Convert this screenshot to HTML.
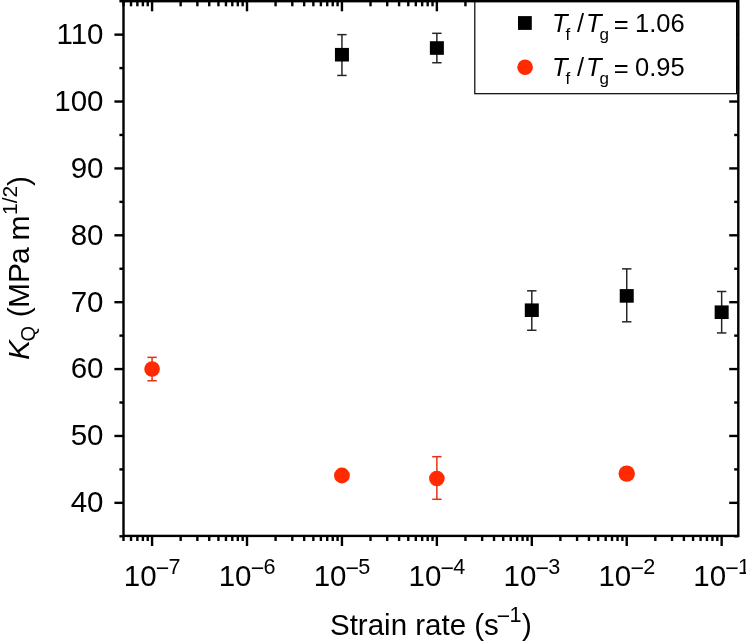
<!DOCTYPE html>
<html><head><meta charset="utf-8"><style>html,body{margin:0;padding:0;background:#fff;overflow:hidden}svg{display:block;will-change:transform}text{font-family:"Liberation Sans",sans-serif}</style></head>
<body><svg width="746" height="641" viewBox="0 0 746 641" font-family="Liberation Sans, sans-serif" fill="#000">
<line x1="341.94" y1="34.64" x2="341.94" y2="75.44" stroke="#262626" stroke-width="1.5"/><line x1="337.24" y1="34.64" x2="346.64" y2="34.64" stroke="#262626" stroke-width="1.5"/><line x1="337.24" y1="75.44" x2="346.64" y2="75.44" stroke="#262626" stroke-width="1.5"/><rect x="334.94" y="47.91" width="14" height="13.6" fill="#000"/><line x1="436.87" y1="33.31" x2="436.87" y2="62.74" stroke="#262626" stroke-width="1.5"/><line x1="432.17" y1="33.31" x2="441.57" y2="33.31" stroke="#262626" stroke-width="1.5"/><line x1="432.17" y1="62.74" x2="441.57" y2="62.74" stroke="#262626" stroke-width="1.5"/><rect x="429.87" y="41.22" width="14" height="13.6" fill="#000"/><line x1="531.80" y1="290.82" x2="531.80" y2="330.28" stroke="#262626" stroke-width="1.5"/><line x1="527.10" y1="290.82" x2="536.50" y2="290.82" stroke="#262626" stroke-width="1.5"/><line x1="527.10" y1="330.28" x2="536.50" y2="330.28" stroke="#262626" stroke-width="1.5"/><rect x="524.80" y="303.41" width="14" height="13.6" fill="#000"/><line x1="626.73" y1="268.88" x2="626.73" y2="321.79" stroke="#262626" stroke-width="1.5"/><line x1="622.03" y1="268.88" x2="631.43" y2="268.88" stroke="#262626" stroke-width="1.5"/><line x1="622.03" y1="321.79" x2="631.43" y2="321.79" stroke="#262626" stroke-width="1.5"/><rect x="619.73" y="289.10" width="14" height="13.6" fill="#000"/><line x1="721.66" y1="291.49" x2="721.66" y2="332.96" stroke="#262626" stroke-width="1.5"/><line x1="716.96" y1="291.49" x2="726.36" y2="291.49" stroke="#262626" stroke-width="1.5"/><line x1="716.96" y1="332.96" x2="726.36" y2="332.96" stroke="#262626" stroke-width="1.5"/><rect x="714.66" y="305.42" width="14" height="13.6" fill="#000"/><line x1="152.08" y1="357.37" x2="152.08" y2="380.78" stroke="#e63214" stroke-width="1.5"/><line x1="147.38" y1="357.37" x2="156.78" y2="357.37" stroke="#e63214" stroke-width="1.5"/><line x1="147.38" y1="380.78" x2="156.78" y2="380.78" stroke="#e63214" stroke-width="1.5"/><circle cx="152.08" cy="369.07" r="7.8" fill="#ff2a00"/><circle cx="341.94" cy="475.49" r="7.9" fill="#ff2a00"/><line x1="436.87" y1="456.69" x2="436.87" y2="499.30" stroke="#e63214" stroke-width="1.5"/><line x1="432.17" y1="456.69" x2="441.57" y2="456.69" stroke="#e63214" stroke-width="1.5"/><line x1="432.17" y1="499.30" x2="441.57" y2="499.30" stroke="#e63214" stroke-width="1.5"/><circle cx="436.87" cy="478.50" r="7.8" fill="#ff2a00"/><circle cx="626.73" cy="473.62" r="8.2" fill="#ff2a00"/>
<line x1="123.50" y1="535.90" x2="123.50" y2="541.00" stroke="#000" stroke-width="2.4" stroke-linecap="butt"/><line x1="123.50" y1="1.20" x2="123.50" y2="6.30" stroke="#000" stroke-width="2.4" stroke-linecap="butt"/><line x1="131.02" y1="535.90" x2="131.02" y2="541.00" stroke="#000" stroke-width="2.4" stroke-linecap="butt"/><line x1="131.02" y1="1.20" x2="131.02" y2="6.30" stroke="#000" stroke-width="2.4" stroke-linecap="butt"/><line x1="137.37" y1="535.90" x2="137.37" y2="541.00" stroke="#000" stroke-width="2.4" stroke-linecap="butt"/><line x1="137.37" y1="1.20" x2="137.37" y2="6.30" stroke="#000" stroke-width="2.4" stroke-linecap="butt"/><line x1="142.88" y1="535.90" x2="142.88" y2="541.00" stroke="#000" stroke-width="2.4" stroke-linecap="butt"/><line x1="142.88" y1="1.20" x2="142.88" y2="6.30" stroke="#000" stroke-width="2.4" stroke-linecap="butt"/><line x1="147.73" y1="535.90" x2="147.73" y2="541.00" stroke="#000" stroke-width="2.4" stroke-linecap="butt"/><line x1="147.73" y1="1.20" x2="147.73" y2="6.30" stroke="#000" stroke-width="2.4" stroke-linecap="butt"/><line x1="152.08" y1="535.90" x2="152.08" y2="546.00" stroke="#000" stroke-width="2.4" stroke-linecap="butt"/><line x1="152.08" y1="1.20" x2="152.08" y2="11.30" stroke="#000" stroke-width="2.4" stroke-linecap="butt"/><line x1="180.65" y1="535.90" x2="180.65" y2="541.00" stroke="#000" stroke-width="2.4" stroke-linecap="butt"/><line x1="180.65" y1="1.20" x2="180.65" y2="6.30" stroke="#000" stroke-width="2.4" stroke-linecap="butt"/><line x1="197.37" y1="535.90" x2="197.37" y2="541.00" stroke="#000" stroke-width="2.4" stroke-linecap="butt"/><line x1="197.37" y1="1.20" x2="197.37" y2="6.30" stroke="#000" stroke-width="2.4" stroke-linecap="butt"/><line x1="209.23" y1="535.90" x2="209.23" y2="541.00" stroke="#000" stroke-width="2.4" stroke-linecap="butt"/><line x1="209.23" y1="1.20" x2="209.23" y2="6.30" stroke="#000" stroke-width="2.4" stroke-linecap="butt"/><line x1="218.43" y1="535.90" x2="218.43" y2="541.00" stroke="#000" stroke-width="2.4" stroke-linecap="butt"/><line x1="218.43" y1="1.20" x2="218.43" y2="6.30" stroke="#000" stroke-width="2.4" stroke-linecap="butt"/><line x1="225.95" y1="535.90" x2="225.95" y2="541.00" stroke="#000" stroke-width="2.4" stroke-linecap="butt"/><line x1="225.95" y1="1.20" x2="225.95" y2="6.30" stroke="#000" stroke-width="2.4" stroke-linecap="butt"/><line x1="232.30" y1="535.90" x2="232.30" y2="541.00" stroke="#000" stroke-width="2.4" stroke-linecap="butt"/><line x1="232.30" y1="1.20" x2="232.30" y2="6.30" stroke="#000" stroke-width="2.4" stroke-linecap="butt"/><line x1="237.81" y1="535.90" x2="237.81" y2="541.00" stroke="#000" stroke-width="2.4" stroke-linecap="butt"/><line x1="237.81" y1="1.20" x2="237.81" y2="6.30" stroke="#000" stroke-width="2.4" stroke-linecap="butt"/><line x1="242.66" y1="535.90" x2="242.66" y2="541.00" stroke="#000" stroke-width="2.4" stroke-linecap="butt"/><line x1="242.66" y1="1.20" x2="242.66" y2="6.30" stroke="#000" stroke-width="2.4" stroke-linecap="butt"/><line x1="247.01" y1="535.90" x2="247.01" y2="546.00" stroke="#000" stroke-width="2.4" stroke-linecap="butt"/><line x1="247.01" y1="1.20" x2="247.01" y2="11.30" stroke="#000" stroke-width="2.4" stroke-linecap="butt"/><line x1="275.58" y1="535.90" x2="275.58" y2="541.00" stroke="#000" stroke-width="2.4" stroke-linecap="butt"/><line x1="275.58" y1="1.20" x2="275.58" y2="6.30" stroke="#000" stroke-width="2.4" stroke-linecap="butt"/><line x1="292.30" y1="535.90" x2="292.30" y2="541.00" stroke="#000" stroke-width="2.4" stroke-linecap="butt"/><line x1="292.30" y1="1.20" x2="292.30" y2="6.30" stroke="#000" stroke-width="2.4" stroke-linecap="butt"/><line x1="304.16" y1="535.90" x2="304.16" y2="541.00" stroke="#000" stroke-width="2.4" stroke-linecap="butt"/><line x1="304.16" y1="1.20" x2="304.16" y2="6.30" stroke="#000" stroke-width="2.4" stroke-linecap="butt"/><line x1="313.36" y1="535.90" x2="313.36" y2="541.00" stroke="#000" stroke-width="2.4" stroke-linecap="butt"/><line x1="313.36" y1="1.20" x2="313.36" y2="6.30" stroke="#000" stroke-width="2.4" stroke-linecap="butt"/><line x1="320.88" y1="535.90" x2="320.88" y2="541.00" stroke="#000" stroke-width="2.4" stroke-linecap="butt"/><line x1="320.88" y1="1.20" x2="320.88" y2="6.30" stroke="#000" stroke-width="2.4" stroke-linecap="butt"/><line x1="327.23" y1="535.90" x2="327.23" y2="541.00" stroke="#000" stroke-width="2.4" stroke-linecap="butt"/><line x1="327.23" y1="1.20" x2="327.23" y2="6.30" stroke="#000" stroke-width="2.4" stroke-linecap="butt"/><line x1="332.74" y1="535.90" x2="332.74" y2="541.00" stroke="#000" stroke-width="2.4" stroke-linecap="butt"/><line x1="332.74" y1="1.20" x2="332.74" y2="6.30" stroke="#000" stroke-width="2.4" stroke-linecap="butt"/><line x1="337.59" y1="535.90" x2="337.59" y2="541.00" stroke="#000" stroke-width="2.4" stroke-linecap="butt"/><line x1="337.59" y1="1.20" x2="337.59" y2="6.30" stroke="#000" stroke-width="2.4" stroke-linecap="butt"/><line x1="341.94" y1="535.90" x2="341.94" y2="546.00" stroke="#000" stroke-width="2.4" stroke-linecap="butt"/><line x1="341.94" y1="1.20" x2="341.94" y2="11.30" stroke="#000" stroke-width="2.4" stroke-linecap="butt"/><line x1="370.51" y1="535.90" x2="370.51" y2="541.00" stroke="#000" stroke-width="2.4" stroke-linecap="butt"/><line x1="370.51" y1="1.20" x2="370.51" y2="6.30" stroke="#000" stroke-width="2.4" stroke-linecap="butt"/><line x1="387.23" y1="535.90" x2="387.23" y2="541.00" stroke="#000" stroke-width="2.4" stroke-linecap="butt"/><line x1="387.23" y1="1.20" x2="387.23" y2="6.30" stroke="#000" stroke-width="2.4" stroke-linecap="butt"/><line x1="399.09" y1="535.90" x2="399.09" y2="541.00" stroke="#000" stroke-width="2.4" stroke-linecap="butt"/><line x1="399.09" y1="1.20" x2="399.09" y2="6.30" stroke="#000" stroke-width="2.4" stroke-linecap="butt"/><line x1="408.29" y1="535.90" x2="408.29" y2="541.00" stroke="#000" stroke-width="2.4" stroke-linecap="butt"/><line x1="408.29" y1="1.20" x2="408.29" y2="6.30" stroke="#000" stroke-width="2.4" stroke-linecap="butt"/><line x1="415.81" y1="535.90" x2="415.81" y2="541.00" stroke="#000" stroke-width="2.4" stroke-linecap="butt"/><line x1="415.81" y1="1.20" x2="415.81" y2="6.30" stroke="#000" stroke-width="2.4" stroke-linecap="butt"/><line x1="422.16" y1="535.90" x2="422.16" y2="541.00" stroke="#000" stroke-width="2.4" stroke-linecap="butt"/><line x1="422.16" y1="1.20" x2="422.16" y2="6.30" stroke="#000" stroke-width="2.4" stroke-linecap="butt"/><line x1="427.67" y1="535.90" x2="427.67" y2="541.00" stroke="#000" stroke-width="2.4" stroke-linecap="butt"/><line x1="427.67" y1="1.20" x2="427.67" y2="6.30" stroke="#000" stroke-width="2.4" stroke-linecap="butt"/><line x1="432.52" y1="535.90" x2="432.52" y2="541.00" stroke="#000" stroke-width="2.4" stroke-linecap="butt"/><line x1="432.52" y1="1.20" x2="432.52" y2="6.30" stroke="#000" stroke-width="2.4" stroke-linecap="butt"/><line x1="436.87" y1="535.90" x2="436.87" y2="546.00" stroke="#000" stroke-width="2.4" stroke-linecap="butt"/><line x1="436.87" y1="1.20" x2="436.87" y2="11.30" stroke="#000" stroke-width="2.4" stroke-linecap="butt"/><line x1="465.44" y1="535.90" x2="465.44" y2="541.00" stroke="#000" stroke-width="2.4" stroke-linecap="butt"/><line x1="465.44" y1="1.20" x2="465.44" y2="6.30" stroke="#000" stroke-width="2.4" stroke-linecap="butt"/><line x1="482.16" y1="535.90" x2="482.16" y2="541.00" stroke="#000" stroke-width="2.4" stroke-linecap="butt"/><line x1="482.16" y1="1.20" x2="482.16" y2="6.30" stroke="#000" stroke-width="2.4" stroke-linecap="butt"/><line x1="494.02" y1="535.90" x2="494.02" y2="541.00" stroke="#000" stroke-width="2.4" stroke-linecap="butt"/><line x1="494.02" y1="1.20" x2="494.02" y2="6.30" stroke="#000" stroke-width="2.4" stroke-linecap="butt"/><line x1="503.22" y1="535.90" x2="503.22" y2="541.00" stroke="#000" stroke-width="2.4" stroke-linecap="butt"/><line x1="503.22" y1="1.20" x2="503.22" y2="6.30" stroke="#000" stroke-width="2.4" stroke-linecap="butt"/><line x1="510.74" y1="535.90" x2="510.74" y2="541.00" stroke="#000" stroke-width="2.4" stroke-linecap="butt"/><line x1="510.74" y1="1.20" x2="510.74" y2="6.30" stroke="#000" stroke-width="2.4" stroke-linecap="butt"/><line x1="517.09" y1="535.90" x2="517.09" y2="541.00" stroke="#000" stroke-width="2.4" stroke-linecap="butt"/><line x1="517.09" y1="1.20" x2="517.09" y2="6.30" stroke="#000" stroke-width="2.4" stroke-linecap="butt"/><line x1="522.60" y1="535.90" x2="522.60" y2="541.00" stroke="#000" stroke-width="2.4" stroke-linecap="butt"/><line x1="522.60" y1="1.20" x2="522.60" y2="6.30" stroke="#000" stroke-width="2.4" stroke-linecap="butt"/><line x1="527.45" y1="535.90" x2="527.45" y2="541.00" stroke="#000" stroke-width="2.4" stroke-linecap="butt"/><line x1="527.45" y1="1.20" x2="527.45" y2="6.30" stroke="#000" stroke-width="2.4" stroke-linecap="butt"/><line x1="531.80" y1="535.90" x2="531.80" y2="546.00" stroke="#000" stroke-width="2.4" stroke-linecap="butt"/><line x1="531.80" y1="1.20" x2="531.80" y2="11.30" stroke="#000" stroke-width="2.4" stroke-linecap="butt"/><line x1="560.37" y1="535.90" x2="560.37" y2="541.00" stroke="#000" stroke-width="2.4" stroke-linecap="butt"/><line x1="560.37" y1="1.20" x2="560.37" y2="6.30" stroke="#000" stroke-width="2.4" stroke-linecap="butt"/><line x1="577.09" y1="535.90" x2="577.09" y2="541.00" stroke="#000" stroke-width="2.4" stroke-linecap="butt"/><line x1="577.09" y1="1.20" x2="577.09" y2="6.30" stroke="#000" stroke-width="2.4" stroke-linecap="butt"/><line x1="588.95" y1="535.90" x2="588.95" y2="541.00" stroke="#000" stroke-width="2.4" stroke-linecap="butt"/><line x1="588.95" y1="1.20" x2="588.95" y2="6.30" stroke="#000" stroke-width="2.4" stroke-linecap="butt"/><line x1="598.15" y1="535.90" x2="598.15" y2="541.00" stroke="#000" stroke-width="2.4" stroke-linecap="butt"/><line x1="598.15" y1="1.20" x2="598.15" y2="6.30" stroke="#000" stroke-width="2.4" stroke-linecap="butt"/><line x1="605.67" y1="535.90" x2="605.67" y2="541.00" stroke="#000" stroke-width="2.4" stroke-linecap="butt"/><line x1="605.67" y1="1.20" x2="605.67" y2="6.30" stroke="#000" stroke-width="2.4" stroke-linecap="butt"/><line x1="612.02" y1="535.90" x2="612.02" y2="541.00" stroke="#000" stroke-width="2.4" stroke-linecap="butt"/><line x1="612.02" y1="1.20" x2="612.02" y2="6.30" stroke="#000" stroke-width="2.4" stroke-linecap="butt"/><line x1="617.53" y1="535.90" x2="617.53" y2="541.00" stroke="#000" stroke-width="2.4" stroke-linecap="butt"/><line x1="617.53" y1="1.20" x2="617.53" y2="6.30" stroke="#000" stroke-width="2.4" stroke-linecap="butt"/><line x1="622.38" y1="535.90" x2="622.38" y2="541.00" stroke="#000" stroke-width="2.4" stroke-linecap="butt"/><line x1="622.38" y1="1.20" x2="622.38" y2="6.30" stroke="#000" stroke-width="2.4" stroke-linecap="butt"/><line x1="626.73" y1="535.90" x2="626.73" y2="546.00" stroke="#000" stroke-width="2.4" stroke-linecap="butt"/><line x1="626.73" y1="1.20" x2="626.73" y2="11.30" stroke="#000" stroke-width="2.4" stroke-linecap="butt"/><line x1="655.30" y1="535.90" x2="655.30" y2="541.00" stroke="#000" stroke-width="2.4" stroke-linecap="butt"/><line x1="655.30" y1="1.20" x2="655.30" y2="6.30" stroke="#000" stroke-width="2.4" stroke-linecap="butt"/><line x1="672.02" y1="535.90" x2="672.02" y2="541.00" stroke="#000" stroke-width="2.4" stroke-linecap="butt"/><line x1="672.02" y1="1.20" x2="672.02" y2="6.30" stroke="#000" stroke-width="2.4" stroke-linecap="butt"/><line x1="683.88" y1="535.90" x2="683.88" y2="541.00" stroke="#000" stroke-width="2.4" stroke-linecap="butt"/><line x1="683.88" y1="1.20" x2="683.88" y2="6.30" stroke="#000" stroke-width="2.4" stroke-linecap="butt"/><line x1="693.08" y1="535.90" x2="693.08" y2="541.00" stroke="#000" stroke-width="2.4" stroke-linecap="butt"/><line x1="693.08" y1="1.20" x2="693.08" y2="6.30" stroke="#000" stroke-width="2.4" stroke-linecap="butt"/><line x1="700.60" y1="535.90" x2="700.60" y2="541.00" stroke="#000" stroke-width="2.4" stroke-linecap="butt"/><line x1="700.60" y1="1.20" x2="700.60" y2="6.30" stroke="#000" stroke-width="2.4" stroke-linecap="butt"/><line x1="706.95" y1="535.90" x2="706.95" y2="541.00" stroke="#000" stroke-width="2.4" stroke-linecap="butt"/><line x1="706.95" y1="1.20" x2="706.95" y2="6.30" stroke="#000" stroke-width="2.4" stroke-linecap="butt"/><line x1="712.46" y1="535.90" x2="712.46" y2="541.00" stroke="#000" stroke-width="2.4" stroke-linecap="butt"/><line x1="712.46" y1="1.20" x2="712.46" y2="6.30" stroke="#000" stroke-width="2.4" stroke-linecap="butt"/><line x1="717.31" y1="535.90" x2="717.31" y2="541.00" stroke="#000" stroke-width="2.4" stroke-linecap="butt"/><line x1="717.31" y1="1.20" x2="717.31" y2="6.30" stroke="#000" stroke-width="2.4" stroke-linecap="butt"/><line x1="721.66" y1="535.90" x2="721.66" y2="546.00" stroke="#000" stroke-width="2.4" stroke-linecap="butt"/><line x1="721.66" y1="1.20" x2="721.66" y2="11.30" stroke="#000" stroke-width="2.4" stroke-linecap="butt"/><line x1="123.50" y1="536.29" x2="119.40" y2="536.29" stroke="#000" stroke-width="2.4" stroke-linecap="butt"/><line x1="738.30" y1="536.29" x2="734.20" y2="536.29" stroke="#000" stroke-width="2.4" stroke-linecap="butt"/><line x1="123.50" y1="502.85" x2="114.40" y2="502.85" stroke="#000" stroke-width="2.4" stroke-linecap="butt"/><line x1="738.30" y1="502.85" x2="729.20" y2="502.85" stroke="#000" stroke-width="2.4" stroke-linecap="butt"/><line x1="123.50" y1="469.40" x2="119.40" y2="469.40" stroke="#000" stroke-width="2.4" stroke-linecap="butt"/><line x1="738.30" y1="469.40" x2="734.20" y2="469.40" stroke="#000" stroke-width="2.4" stroke-linecap="butt"/><line x1="123.50" y1="435.96" x2="114.40" y2="435.96" stroke="#000" stroke-width="2.4" stroke-linecap="butt"/><line x1="738.30" y1="435.96" x2="729.20" y2="435.96" stroke="#000" stroke-width="2.4" stroke-linecap="butt"/><line x1="123.50" y1="402.52" x2="119.40" y2="402.52" stroke="#000" stroke-width="2.4" stroke-linecap="butt"/><line x1="738.30" y1="402.52" x2="734.20" y2="402.52" stroke="#000" stroke-width="2.4" stroke-linecap="butt"/><line x1="123.50" y1="369.07" x2="114.40" y2="369.07" stroke="#000" stroke-width="2.4" stroke-linecap="butt"/><line x1="738.30" y1="369.07" x2="729.20" y2="369.07" stroke="#000" stroke-width="2.4" stroke-linecap="butt"/><line x1="123.50" y1="335.63" x2="119.40" y2="335.63" stroke="#000" stroke-width="2.4" stroke-linecap="butt"/><line x1="738.30" y1="335.63" x2="734.20" y2="335.63" stroke="#000" stroke-width="2.4" stroke-linecap="butt"/><line x1="123.50" y1="302.19" x2="114.40" y2="302.19" stroke="#000" stroke-width="2.4" stroke-linecap="butt"/><line x1="738.30" y1="302.19" x2="729.20" y2="302.19" stroke="#000" stroke-width="2.4" stroke-linecap="butt"/><line x1="123.50" y1="268.75" x2="119.40" y2="268.75" stroke="#000" stroke-width="2.4" stroke-linecap="butt"/><line x1="738.30" y1="268.75" x2="734.20" y2="268.75" stroke="#000" stroke-width="2.4" stroke-linecap="butt"/><line x1="123.50" y1="235.30" x2="114.40" y2="235.30" stroke="#000" stroke-width="2.4" stroke-linecap="butt"/><line x1="738.30" y1="235.30" x2="729.20" y2="235.30" stroke="#000" stroke-width="2.4" stroke-linecap="butt"/><line x1="123.50" y1="201.86" x2="119.40" y2="201.86" stroke="#000" stroke-width="2.4" stroke-linecap="butt"/><line x1="738.30" y1="201.86" x2="734.20" y2="201.86" stroke="#000" stroke-width="2.4" stroke-linecap="butt"/><line x1="123.50" y1="168.42" x2="114.40" y2="168.42" stroke="#000" stroke-width="2.4" stroke-linecap="butt"/><line x1="738.30" y1="168.42" x2="729.20" y2="168.42" stroke="#000" stroke-width="2.4" stroke-linecap="butt"/><line x1="123.50" y1="134.97" x2="119.40" y2="134.97" stroke="#000" stroke-width="2.4" stroke-linecap="butt"/><line x1="738.30" y1="134.97" x2="734.20" y2="134.97" stroke="#000" stroke-width="2.4" stroke-linecap="butt"/><line x1="123.50" y1="101.53" x2="114.40" y2="101.53" stroke="#000" stroke-width="2.4" stroke-linecap="butt"/><line x1="738.30" y1="101.53" x2="729.20" y2="101.53" stroke="#000" stroke-width="2.4" stroke-linecap="butt"/><line x1="123.50" y1="68.09" x2="119.40" y2="68.09" stroke="#000" stroke-width="2.4" stroke-linecap="butt"/><line x1="738.30" y1="68.09" x2="734.20" y2="68.09" stroke="#000" stroke-width="2.4" stroke-linecap="butt"/><line x1="123.50" y1="34.64" x2="114.40" y2="34.64" stroke="#000" stroke-width="2.4" stroke-linecap="butt"/><line x1="738.30" y1="34.64" x2="729.20" y2="34.64" stroke="#000" stroke-width="2.4" stroke-linecap="butt"/><line x1="123.50" y1="1.20" x2="119.40" y2="1.20" stroke="#000" stroke-width="2.4" stroke-linecap="butt"/><line x1="738.30" y1="1.20" x2="734.20" y2="1.20" stroke="#000" stroke-width="2.4" stroke-linecap="butt"/>
<rect x="474.8" y="-1" width="261.8" height="94.7" fill="#fff" stroke="#000" stroke-width="1.2"/><rect x="518" y="16.1" width="13.8" height="13.8" fill="#000"/><circle cx="525.1" cy="67.2" r="7.8" fill="#ff2a00"/><text x="552" y="32.3" font-size="25.5" font-style="italic">T</text><text x="565.5" y="40.3" font-size="17">f</text><text x="577" y="32.3" font-size="25.5">/</text><text x="585.9" y="32.3" font-size="25.5" font-style="italic">T</text><text x="599.5" y="39.9" font-size="17">g</text><text x="613.8" y="33.199999999999996" font-size="25.5">=</text><text x="635" y="32.3" font-size="25.5">1.06</text><text x="552" y="76.2" font-size="25.5" font-style="italic">T</text><text x="565.5" y="84.2" font-size="17">f</text><text x="577" y="76.2" font-size="25.5">/</text><text x="585.9" y="76.2" font-size="25.5" font-style="italic">T</text><text x="599.5" y="83.8" font-size="17">g</text><text x="613.8" y="77.10000000000001" font-size="25.5">=</text><text x="635" y="76.2" font-size="25.5">0.95</text>
<rect x="123.5" y="1.2" width="614.80" height="534.70" fill="none" stroke="#000" stroke-width="2.4" stroke-linejoin="miter"/>
<text x="103.50" y="512.25" font-size="29.5" text-anchor="end" >40</text><text x="103.50" y="445.36" font-size="29.5" text-anchor="end" >50</text><text x="103.50" y="378.47" font-size="29.5" text-anchor="end" >60</text><text x="103.50" y="311.59" font-size="29.5" text-anchor="end" >70</text><text x="103.50" y="244.70" font-size="29.5" text-anchor="end" >80</text><text x="103.50" y="177.82" font-size="29.5" text-anchor="end" >90</text><text x="103.50" y="110.93" font-size="29.5" text-anchor="end" >100</text><text x="103.50" y="44.04" font-size="29.5" text-anchor="end" >110</text><text x="123.78" y="586.00" font-size="29.5" text-anchor="start" >10</text><text x="155.73" y="576.10" font-size="23.25" text-anchor="start" >&#8722;</text><text x="168.48" y="573.50" font-size="21.6" text-anchor="start" >7</text><text x="218.71" y="586.00" font-size="29.5" text-anchor="start" >10</text><text x="250.66" y="576.10" font-size="23.25" text-anchor="start" >&#8722;</text><text x="263.41" y="573.50" font-size="21.6" text-anchor="start" >6</text><text x="313.64" y="586.00" font-size="29.5" text-anchor="start" >10</text><text x="345.59" y="576.10" font-size="23.25" text-anchor="start" >&#8722;</text><text x="358.34" y="573.50" font-size="21.6" text-anchor="start" >5</text><text x="408.57" y="586.00" font-size="29.5" text-anchor="start" >10</text><text x="440.52" y="576.10" font-size="23.25" text-anchor="start" >&#8722;</text><text x="453.27" y="573.50" font-size="21.6" text-anchor="start" >4</text><text x="503.50" y="586.00" font-size="29.5" text-anchor="start" >10</text><text x="535.45" y="576.10" font-size="23.25" text-anchor="start" >&#8722;</text><text x="548.20" y="573.50" font-size="21.6" text-anchor="start" >3</text><text x="598.43" y="586.00" font-size="29.5" text-anchor="start" >10</text><text x="630.38" y="576.10" font-size="23.25" text-anchor="start" >&#8722;</text><text x="643.13" y="573.50" font-size="21.6" text-anchor="start" >2</text><text x="693.36" y="586.00" font-size="29.5" text-anchor="start" >10</text><text x="725.31" y="576.10" font-size="23.25" text-anchor="start" >&#8722;</text><text x="738.06" y="573.50" font-size="21.6" text-anchor="start" >1</text><text x="330.00" y="634.50" font-size="29.5" text-anchor="start" >Strain rate (s</text><text x="496.66" y="623.50" font-size="23.05" text-anchor="start" >&#8722;</text><text x="509.40" y="621.90" font-size="21.6" text-anchor="start" >1</text><text x="522.00" y="634.50" font-size="29.5" text-anchor="start" >)</text>

<g transform="translate(28.6,360) rotate(-90)"><text x="0" y="0" font-size="30" font-style="italic">K</text><text x="18.5" y="6" font-size="20">Q</text><text x="42.8" y="0" font-size="30">(</text><text x="51.9" y="0" font-size="30">M</text><text x="77" y="0" font-size="30">P</text><text x="96" y="0" font-size="30">a</text><text x="119.4" y="0" font-size="30">m</text><text x="145" y="-12" font-size="21">1/2</text><text x="174" y="0" font-size="30">)</text></g>
</svg></body></html>
